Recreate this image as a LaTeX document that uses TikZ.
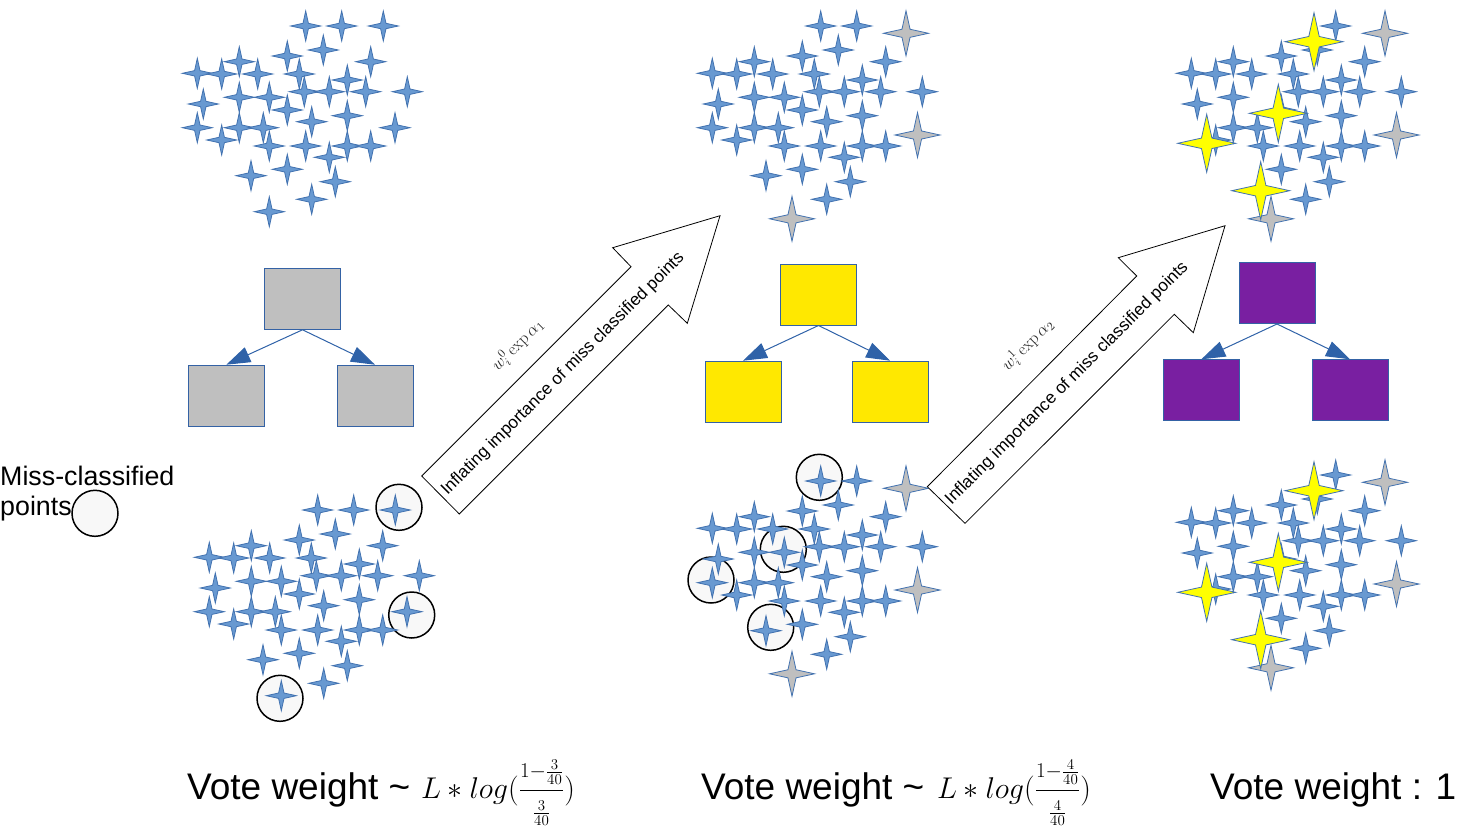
\RequirePackage{fix-cm}
\documentclass[tikz,border=0pt]{standalone}
\usepackage[no-math]{fontspec}
\setmainfont{Liberation Sans}
\usetikzlibrary{arrows.meta}
\definecolor{starfill}{RGB}{104,153,209}
\definecolor{stardraw}{RGB}{66,114,176}
\definecolor{grayfill}{RGB}{191,191,191}
\definecolor{yelstar}{RGB}{255,255,0}
\definecolor{boxdraw}{RGB}{52,98,165}
\definecolor{boxgray}{RGB}{191,191,191}
\definecolor{boxyellow}{RGB}{255,232,0}
\definecolor{boxpurple}{RGB}{121,31,161}
\definecolor{conncol}{RGB}{47,98,168}
\definecolor{circfill}{RGB}{248,248,248}
\newcommand\sparkle[4]{\begin{scope}[shift={(#1,#2)}]\path[#4] (0,#3) -- (0.18*#3,0.18*#3) -- (#3,0) -- (0.18*#3,-0.18*#3) -- (0,-#3) -- (-0.18*#3,-0.18*#3) -- (-#3,0) -- (-0.18*#3,0.18*#3) -- cycle;\end{scope}}
\def\corestars{341.7/26, 323.3/50, 287.3/56, 370.7/61.7, 239.3/61.7, 197.3/73.3, 221.7/74, 257.7/74, 299.3/74, 347.3/80, 304.3/91.7, 329.3/91.7, 365.7/91.7, 407.3/91.7, 203.3/104, 239.3/97.3, 287.3/110, 347.3/115.7, 311.7/121.7, 239.3/127.7, 263.3/127.7, 221.7/140, 269.3/146, 305.7/146, 347.3/146, 370.7/146, 329.3/157.3, 287.3/169.3, 335.3/181.7, 311.7/199.3}
\def\missstars{305.7/26, 269.3/97.3, 197.3/127.7, 251/175.7}
\def\oddstars{383.3/26, 395/127.7, 269.3/211.7}
\def\graystars{391/33.3, 402.5/135, 277/218.8}
\def\yellowstars{320/41.7, 284.3/113.3, 212.7/143.3, 266.7/190.7}
\newcommand\voteformula[1]{$L * log(\displaystyle\frac{\scriptstyle 1-\frac{#1}{40}}{\scriptstyle\frac{#1}{40}}\textstyle)$}
\tikzset{
  bluestar/.style={fill=starfill, draw=stardraw, line width=0.8},
  graystar/.style={fill=grayfill, draw=stardraw, line width=0.8},
  yellowstar/.style={fill=yelstar, draw=stardraw, line width=0.8},
  treebox/.style={draw=boxdraw, line width=1, minimum width=76, minimum height=61, inner sep=0},
  conn/.style={draw=conncol, line width=1, -{Triangle[length=24, width=16]}},
  misscirc/.style={draw=black, fill=circfill, line width=1.5},
  blockarrow/.style={draw=black, fill=white, line width=0.8},
  bigtext/.style={font=\fontsize{37}{44}\selectfont, inner sep=0},
  arrowtext/.style={font=\fontsize{17.2}{20}\selectfont, rotate=45, inner sep=0},
  wlabel/.style={font=\fontsize{17}{20}\selectfont, rotate=45, inner sep=0, text=black!85},
  formula/.style={font=\fontsize{30}{34}\selectfont, inner sep=0},
  legtext/.style={font=\fontsize{26.8}{30}\selectfont, inner sep=0, anchor=base west}
}
\begin{document}
\begin{tikzpicture}[x=1pt, y=-1pt]
\useasboundingbox (0,0) rectangle (1458,827);
% ---------- top clusters ----------
\begin{scope}
  \foreach \a/\b in \corestars {\sparkle{\a}{\b}{15}{bluestar}}
  \foreach \a/\b in \missstars {\sparkle{\a}{\b}{15}{bluestar}}
  \foreach \a/\b in \oddstars {\sparkle{\a}{\b}{15}{bluestar}}
\end{scope}
\begin{scope}[shift={(515,0)}]
  \foreach \a/\b in \corestars {\sparkle{\a}{\b}{15}{bluestar}}
  \foreach \a/\b in \missstars {\sparkle{\a}{\b}{15}{bluestar}}
  \foreach \a/\b in \graystars {\sparkle{\a}{\b}{22.5}{graystar}}
\end{scope}
\begin{scope}[shift={(994,0)}]
  \foreach \a/\b in \corestars {\sparkle{\a}{\b}{15}{bluestar}}
  \foreach \a/\b in \graystars {\sparkle{\a}{\b}{22.5}{graystar}}
  \foreach \a/\b in \yellowstars {\sparkle{\a}{\b}{29}{yellowstar}}
\end{scope}
% ---------- bottom clusters ----------
\node[misscirc, circle, minimum size=46] (c1) at (399,507.3) {};
\node[misscirc, circle, minimum size=46] (c2) at (411.7,615) {};
\node[misscirc, circle, minimum size=46] (c3) at (280,698.3) {};
\begin{scope}[shift={(12,484)}]
  \foreach \a/\b in \corestars {\sparkle{\a}{\b}{15}{bluestar}}
  \foreach \a/\b in \missstars {\sparkle{\a}{\b}{15}{bluestar}}
  \foreach \a/\b in \oddstars {\sparkle{\a}{\b}{15}{bluestar}}
\end{scope}
\node[misscirc, circle, minimum size=46] (c4) at (819.3,477.3) {};
\node[misscirc, circle, minimum size=46] (c5) at (783.3,549.3) {};
\node[misscirc, circle, minimum size=46] (c6) at (711,580) {};
\node[misscirc, circle, minimum size=46] (c7) at (770.7,627.3) {};
\begin{scope}[shift={(515,455)}]
  \foreach \a/\b in \corestars {\sparkle{\a}{\b}{15}{bluestar}}
  \foreach \a/\b in \missstars {\sparkle{\a}{\b}{15}{bluestar}}
  \foreach \a/\b in \graystars {\sparkle{\a}{\b}{22.5}{graystar}}
\end{scope}
\begin{scope}[shift={(994,449)}]
  \foreach \a/\b in \corestars {\sparkle{\a}{\b}{15}{bluestar}}
  \foreach \a/\b in \graystars {\sparkle{\a}{\b}{22.5}{graystar}}
  \foreach \a/\b in \yellowstars {\sparkle{\a}{\b}{29}{yellowstar}}
\end{scope}
% ---------- trees ----------
\node[treebox, fill=boxgray] (g0) at (302.5,298.8) {};
\node[treebox, fill=boxgray] (g1) at (226.3,395.7) {};
\node[treebox, fill=boxgray] (g2) at (375,395.7) {};
\draw[conn] (g0.south) -- (g1.north);
\draw[conn] (g0.south) -- (g2.north);
\node[treebox, fill=boxyellow] (y0) at (818.5,294.5) {};
\node[treebox, fill=boxyellow] (y1) at (743,391.7) {};
\node[treebox, fill=boxyellow] (y2) at (890.2,391.7) {};
\draw[conn] (y0.south) -- (y1.north);
\draw[conn] (y0.south) -- (y2.north);
\node[treebox, fill=boxpurple] (p0) at (1277,293) {};
\node[treebox, fill=boxpurple] (p1) at (1201.3,390.3) {};
\node[treebox, fill=boxpurple] (p2) at (1350,390.3) {};
\draw[conn] (p0.south) -- (p1.north);
\draw[conn] (p0.south) -- (p2.north);
% ---------- block arrows ----------
\draw[blockarrow] (421.7,476) -- (631,266.7) -- (612.7,247.7) -- (720,215.7) -- (687.3,323.3) -- (668.3,305) -- (459.3,514) -- cycle;
\node[arrowtext] (t1) at (563,374) {Inflating importance of miss classified points};
\node[wlabel] (w1) at (517.5,345) {$w_i^0\exp\alpha_1$};
\draw[blockarrow] (927.3,486.7) -- (1136.7,276) -- (1118.3,257.7) -- (1225,225.7) -- (1193.3,332.7) -- (1174.3,314.3) -- (965,523.3) -- cycle;
\node[arrowtext] (t2) at (1067,383.5) {Inflating importance of miss classified points};
\node[wlabel] (w2) at (1027.5,345) {$w_i^1\exp\alpha_2$};
% ---------- legend ----------
\node[legtext] (leg1) at (0,485) {Miss-classified};
\node[legtext] (leg2) at (0,515) {points};
\node[misscirc, circle, minimum size=46] (legc) at (95,513.3) {};
% ---------- vote weights ----------
\node[bigtext, anchor=base west] (v1) at (187,799) {Vote weight \textasciitilde};
\node[formula, anchor=base west] (f1) at (421,798) {\voteformula{3}};
\node[bigtext, anchor=base west] (v2) at (701,799) {Vote weight \textasciitilde};
\node[formula, anchor=base west] (f2) at (937,798) {\voteformula{4}};
\node[bigtext, anchor=base west] (v3) at (1210,799) {Vote weight : 1};
\end{tikzpicture}
\end{document}
